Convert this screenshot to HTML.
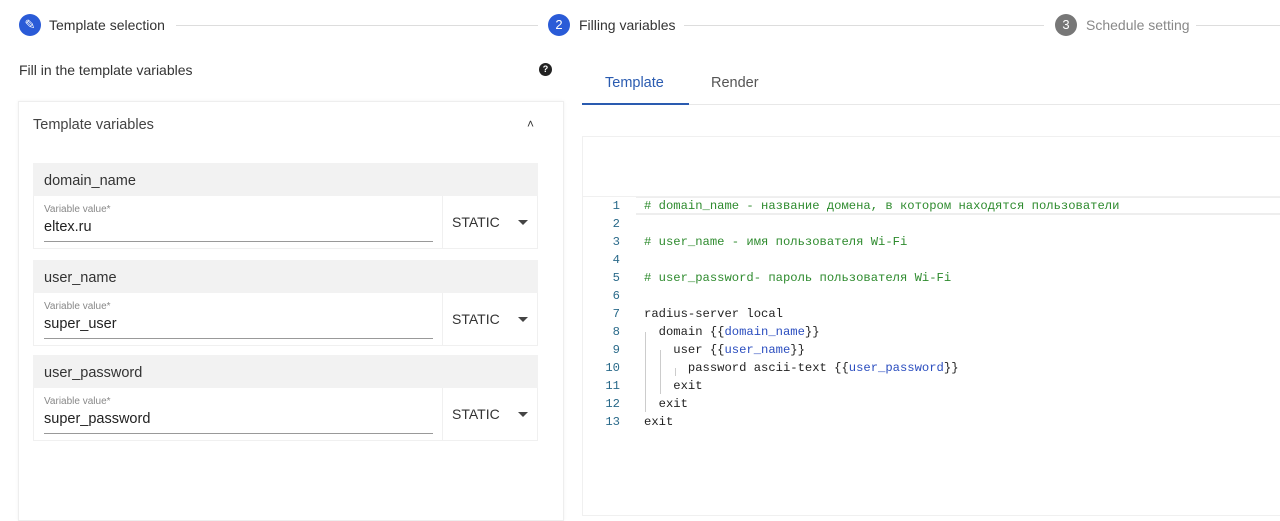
<!DOCTYPE html>
<html><head><meta charset="utf-8"><style>
*{margin:0;padding:0;box-sizing:border-box}
body{width:1280px;height:487px;background:#fff;position:relative;overflow:hidden;font-family:"Liberation Sans",sans-serif;color:#333}
.a{position:absolute;white-space:nowrap}
.circ{position:absolute;width:22px;height:22px;border-radius:50%;color:#fff;font-size:13px;text-align:center;line-height:22px}
.ln{position:absolute;height:1px;background:#ddd}
.vh{position:absolute;left:33px;width:505px;height:33px;background:#f2f2f2;font-size:14.5px;padding:10px 11px;color:#333}
.vr{position:absolute;left:33px;width:505px;height:53px;border:1px solid #f0f0f0;border-top:none}
.vr .lab{position:absolute;left:10px;top:8px;font-size:10px;color:#888}
.vr .val{position:absolute;left:10px;top:23px;font-size:14.5px;color:#222}
.vr .ul{position:absolute;left:10px;top:45px;width:389px;height:1px;background:#999}
.vr .sep{position:absolute;left:408px;top:0;width:1px;height:52px;background:#f0f0f0}
.vr .st{position:absolute;left:418px;top:18px;font-size:14px;color:#333}
.vr .ar{position:absolute;left:484px;top:24px;width:0;height:0;border-left:5px solid transparent;border-right:5px solid transparent;border-top:5px solid #444}
.code{position:absolute;font-family:"Liberation Mono","DejaVu Sans Mono",monospace;font-size:12.2px;line-height:18px;white-space:pre}
.g{color:#2e8b2e}.b{color:#2a4dbf}
</style></head><body>
<div class="circ" style="left:19px;top:14px;background:#2a5bd7">✎</div>
<div class="a" style="left:49px;top:17px;font-size:14px">Template selection</div>
<div class="ln" style="left:176px;top:25px;width:362px"></div>
<div class="circ" style="left:548px;top:14px;background:#2a5bd7">2</div>
<div class="a" style="left:579px;top:17px;font-size:14px">Filling variables</div>
<div class="ln" style="left:684px;top:25px;width:360px"></div>
<div class="circ" style="left:1055px;top:14px;background:#777">3</div>
<div class="a" style="left:1086px;top:17px;font-size:14px;color:#888">Schedule setting</div>
<div class="ln" style="left:1196px;top:25px;width:84px"></div>

<div class="a" style="left:19px;top:62px;font-size:14px">Fill in the template variables</div>
<div class="circ" style="left:539px;top:63px;width:13px;height:13px;line-height:13px;font-size:9px;background:#222;font-weight:bold">?</div>

<div style="position:absolute;left:18px;top:101px;width:546px;height:420px;border:1px solid #eee;box-shadow:0 0 3px rgba(0,0,0,.06)"></div>
<div class="a" style="left:33px;top:117px;font-size:14.5px;color:#444">Template variables</div>
<div class="a" style="left:527px;top:117px;font-size:12px;color:#333">˄</div>

<div class="vh" style="top:163px">domain_name</div>
<div class="vr" style="top:196px"><div class="lab">Variable value*</div><div class="val">eltex.ru</div><div class="ul"></div><div class="sep"></div><div class="st">STATIC</div><div class="ar"></div></div>
<div class="vh" style="top:260px">user_name</div>
<div class="vr" style="top:293px"><div class="lab">Variable value*</div><div class="val">super_user</div><div class="ul"></div><div class="sep"></div><div class="st">STATIC</div><div class="ar"></div></div>
<div class="vh" style="top:355px">user_password</div>
<div class="vr" style="top:388px"><div class="lab">Variable value*</div><div class="val">super_password</div><div class="ul"></div><div class="sep"></div><div class="st">STATIC</div><div class="ar"></div></div>

<div class="a" style="left:605px;top:75px;font-size:14.5px;color:#2a5bb0">Template</div>
<div class="a" style="left:711px;top:75px;font-size:14.5px;color:#555">Render</div>
<div class="ln" style="left:582px;top:104px;width:698px;background:#e8e8e8"></div>
<div style="position:absolute;left:582px;top:103px;width:107px;height:2px;background:#2a5bb0"></div>

<div style="position:absolute;left:582px;top:136px;width:710px;height:380px;border:1px solid #f0f0f0"></div>
<div class="ln" style="left:582px;top:196px;width:698px;background:#f0f0f0"></div>
<div style="position:absolute;left:636px;top:197px;width:644px;height:18px;border-top:1px solid #eee;border-bottom:2px solid #eee"></div>
<div style="position:absolute;left:645px;top:332px;width:1px;height:80px;background:#ccc"></div>
<div style="position:absolute;left:660px;top:350px;width:1px;height:44px;background:#ccc"></div>
<div style="position:absolute;left:675px;top:368px;width:1px;height:8px;background:#ccc"></div>
<div class="code" style="left:598px;top:197px;color:#2a6a8a;text-align:right;width:22px">1
2
3
4
5
6
7
8
9
10
11
12
13</div>
<div class="code" style="left:644px;top:197px;color:#222"><span class="g"># domain_name - название домена, в котором находятся пользователи</span>

<span class="g"># user_name - имя пользователя Wi-Fi</span>

<span class="g"># user_password- пароль пользователя Wi-Fi</span>

radius-server local
  domain {{<span class="b">domain_name</span>}}
    user {{<span class="b">user_name</span>}}
      password ascii-text {{<span class="b">user_password</span>}}
    exit
  exit
exit</div>
</body></html>
